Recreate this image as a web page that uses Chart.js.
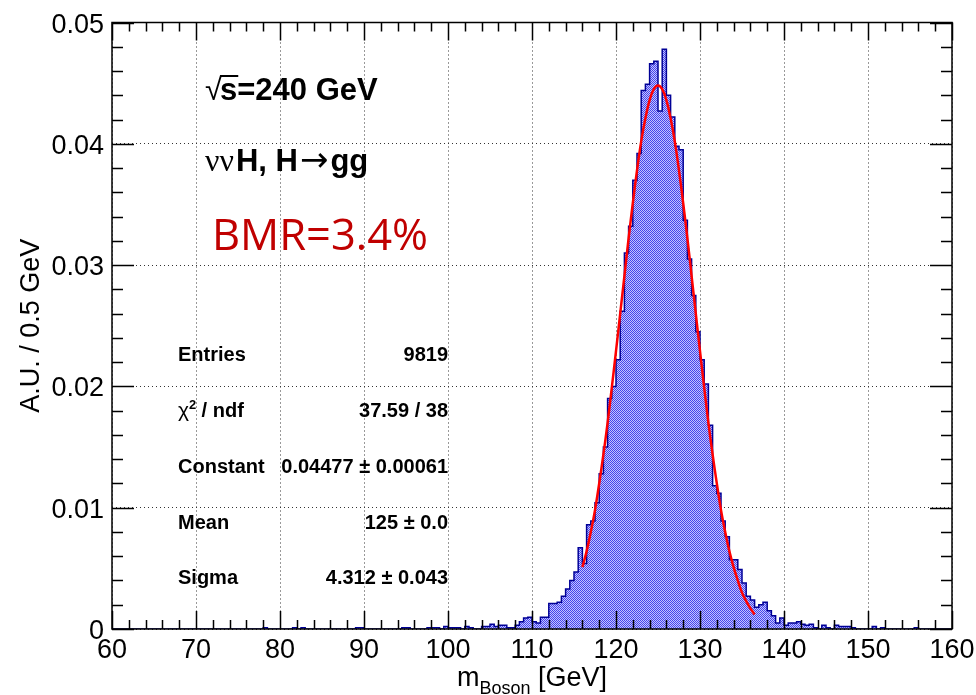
<!DOCTYPE html>
<html>
<head>
<meta charset="utf-8">
<script src="https://cdn.jsdelivr.net/npm/chart.js@4.4.0/dist/chart.umd.min.js"></script>
<style>
  html, body { margin: 0; padding: 0; background: #fff; }
</style>
</head>
<body>
<canvas id="chart" width="976" height="695"></canvas>
<script>
// m_Boson histogram: 200 bins of 0.5 GeV, first bin starts at 60 GeV
const binLow = 60;
const binWidth = 0.5;
const binValues = [
  0, 0, 0, 0, 0, 0, 0, 0, 0, 0,                                            // 60
  0, 0, 0, 0, 0, 0, 0, 0, 0, 0,                                            // 65
  0, 0, 0, 0, 0, 0, 0, 0, 0, 0,                                            // 70
  0, 0, 0, 0, 0, 0, 0.0001, 0, 0, 0,                                       // 75
  0, 0, 0, 0.0001, 0, 0.0001, 0, 0, 0, 0,                                  // 80
  0, 0, 0, 0, 0, 0, 0, 0, 0.0001, 0.0001,                                  // 85
  0, 0, 0, 0, 0, 0, 0, 0, 0, 0.0001,                                       // 90
  0.0001, 0, 0, 0, 0, 0.0001, 0.0001, 0.0001, 0, 0.0002,                   // 95
  0.0001, 0.0001, 0.0001, 0, 0.0002, 0.0001, 0, 0, 0.0002, 0.0002,         // 100
  0.0004, 0.0002, 0.0003, 0.0003, 0.0001, 0.0001, 0.0003, 0.0006, 0.0009, 0.00096, // 105
  0.0006, 0.0005, 0.00096, 0.00096, 0.0021, 0.0021, 0.0022, 0.0027, 0.0033, 0.0040, // 110
  0.0047, 0.0067, 0.0054, 0.0086, 0.0089, 0.0104, 0.0128, 0.0150, 0.0190, 0.0200,   // 115
  0.0222, 0.0262, 0.0310, 0.0332, 0.0370, 0.0392, 0.0444, 0.0449, 0.0466, 0.0468,   // 120
  0.0427, 0.0478, 0.0440, 0.0422, 0.0398, 0.0395, 0.0337, 0.0305, 0.0275, 0.0245,   // 125
  0.0222, 0.0202, 0.0168, 0.0118, 0.0112, 0.0089, 0.0076, 0.0057, 0.0057, 0.0049,   // 130
  0.0038, 0.0027, 0.0024, 0.0018, 0.0020, 0.0022, 0.0015, 0.0011, 0.0005, 0.0009,   // 135
  0.0003, 0.0005, 0.0005, 0.0006, 0.0004, 0.0003, 0.0004, 0.0001, 0, 0.0003,       // 140
  0.0001, 0, 0.0003, 0.0002, 0.0002, 0.0002, 0.0001, 0, 0, 0,                      // 145
  0, 0.0002, 0, 0.0001, 0, 0, 0, 0, 0, 0,                                          // 150
  0, 0.0001, 0, 0, 0, 0, 0, 0, 0, 0                                                // 155
];

// gaussian fit curve
const fitMass = [
  116, 116.5, 117, 117.5, 118, 118.5, 119, 119.5, 120, 120.5,
  121, 121.5, 122, 122.5, 123, 123.5, 124, 124.5, 125, 125.5,
  126, 126.5, 127, 127.5, 128, 128.5, 129, 129.5, 130, 130.5,
  131, 131.5, 132, 132.5, 133, 133.5, 134, 134.5, 135, 135.5,
  136, 136.5
];
const fitValues = [
  0.0051, 0.0064, 0.0080, 0.0098, 0.0120, 0.0144, 0.0170, 0.0199, 0.0229, 0.0260,
  0.0291, 0.0322, 0.0351, 0.0378, 0.0402, 0.0421, 0.0436, 0.0445, 0.0448, 0.0445,
  0.0436, 0.0421, 0.0402, 0.0378, 0.0351, 0.0322, 0.0291, 0.0260, 0.0229, 0.0199,
  0.0170, 0.0144, 0.0120, 0.0098, 0.0080, 0.0064, 0.0051, 0.0040, 0.0030, 0.0023,
  0.0017, 0.0012
];

const xTickValues = [60, 70, 80, 90, 100, 110, 120, 130, 140, 150, 160];
const yTickValues = [0, 0.01, 0.02, 0.03, 0.04, 0.05];
const yTickLabels = ['0', '0.01', '0.02', '0.03', '0.04', '0.05'];

const statNames = ['Entries', 'χ² / ndf', 'Constant', 'Mean', 'Sigma'];
const statValues = ['9819', '37.59 / 38', '0.04477 ± 0.00061', '125 ± 0.0', '4.312 ± 0.043'];

const sans = '"Liberation Sans", Arial, sans-serif';

const canvas = document.getElementById('chart');
const ctx0 = canvas.getContext('2d');

// ROOT style dotted fill
function hatchPattern() {
  const c = document.createElement('canvas');
  c.width = 2;
  c.height = 2;
  const g = c.getContext('2d');
  g.fillStyle = 'rgb(195,195,255)';
  g.fillRect(0, 0, 2, 2);
  g.fillStyle = 'rgb(70,70,235)';
  g.fillRect(0, 0, 1, 1);
  g.fillRect(1, 1, 1, 1);
  return ctx0.createPattern(c, 'repeat');
}

const histPoints = binValues.map((v, i) => ({ x: binLow + i * binWidth, y: v }));
histPoints.push({ x: binLow + binValues.length * binWidth, y: 0 });
const fitPoints = fitMass.map((m, i) => ({ x: m, y: fitValues[i] }));

const frameAndText = {
  id: 'frameAndText',
  afterDraw(chart) {
    const ctx = chart.ctx;
    const { left, right, top, bottom } = chart.chartArea;
    const xs = chart.scales.x;
    const ys = chart.scales.y;
    ctx.save();

    // frame + inward ticks on all four sides
    ctx.strokeStyle = '#000';
    ctx.lineWidth = 1.5;
    ctx.strokeRect(left, top, right - left, bottom - top);
    ctx.beginPath();
    for (let v = 60; v <= 160; v += 2) {
      const px = Math.round(xs.getPixelForValue(v)) + 0.5;
      const len = v % 10 === 0 ? 18 : 9;
      ctx.moveTo(px, bottom); ctx.lineTo(px, bottom - len);
      ctx.moveTo(px, top); ctx.lineTo(px, top + len);
    }
    for (let k = 0; k <= 25; k++) {
      const py = Math.round(ys.getPixelForValue(k * 0.002)) + 0.5;
      const len = k % 5 === 0 ? 22 : 11;
      ctx.moveTo(left, py); ctx.lineTo(left + len, py);
      ctx.moveTo(right, py); ctx.lineTo(right - len, py);
    }
    ctx.stroke();

    ctx.fillStyle = '#000';
    ctx.textBaseline = 'alphabetic';

    // tick labels from the scales
    ctx.font = '27px ' + sans;
    ctx.textAlign = 'center';
    xs.ticks.forEach((t) => {
      ctx.fillText(String(t.value), xs.getPixelForValue(t.value), 658);
    });
    ctx.textAlign = 'right';
    ys.ticks.forEach((t, i) => {
      ctx.fillText(yTickLabels[i], 104, ys.getPixelForValue(t.value) + 10);
    });

    // x axis title with subscript
    ctx.textAlign = 'left';
    const mainFont = '27px ' + sans;
    const subFont = '18px ' + sans;
    ctx.font = mainFont;
    const wM = ctx.measureText('m').width;
    const wG = ctx.measureText(' [GeV]').width;
    ctx.font = subFont;
    const wB = ctx.measureText('Boson').width;
    let tx = (left + right) / 2 - (wM + wB + wG) / 2;
    ctx.font = mainFont;
    ctx.fillText('m', tx, 686);
    tx += wM;
    ctx.font = subFont;
    ctx.fillText('Boson', tx, 694);
    tx += wB;
    ctx.font = mainFont;
    ctx.fillText(' [GeV]', tx, 686);

    // sqrt(s) line
    let x = 205;
    ctx.font = '31px ' + sans;
    ctx.fillText('√', x, 100);
    x += ctx.measureText('√').width - 2;
    ctx.font = 'bold 31px ' + sans;
    const wS = ctx.measureText('s').width;
    ctx.fillRect(x, 75, wS + 1, 2);
    ctx.fillText('s=240 GeV', x, 100);

    // process line
    x = 205;
    const parts = [
      ['νν', '32px "Liberation Serif", serif'],
      ['H, H', 'bold 31px ' + sans],
      ['→', '34px "DejaVu Sans", sans-serif'],
      ['gg', 'bold 31px ' + sans]
    ];
    parts.forEach(([t, f]) => {
      ctx.font = f;
      ctx.fillText(t, x, 171);
      x += ctx.measureText(t).width + 2;
    });

    // BMR label
    ctx.fillStyle = 'rgb(192,0,0)';
    ctx.font = '43.5px "Open Sans", "Noto Sans", sans-serif';
    ctx.fillText('BMR=3.4%', 212, 250);

    // fit statistics
    ctx.fillStyle = '#000';
    const rowY = [361, 417, 473, 529, 584];
    statNames.forEach((name, i) => {
      ctx.textAlign = 'left';
      if (name.startsWith('χ')) {
        ctx.font = '21px ' + sans;
        ctx.fillText('χ', 178, rowY[i]);
        const wc = ctx.measureText('χ').width;
        ctx.font = 'bold 13px ' + sans;
        ctx.fillText('2', 178 + wc, rowY[i] - 8);
        ctx.font = 'bold 20px ' + sans;
        ctx.fillText(' / ndf', 178 + wc + 7, rowY[i]);
      } else {
        ctx.font = 'bold 20px ' + sans;
        ctx.fillText(name, 178, rowY[i]);
      }
      ctx.textAlign = 'right';
      ctx.font = 'bold 20px ' + sans;
      ctx.fillText(statValues[i], 448, rowY[i]);
    });
    ctx.restore();
  }
};

const config = {
  type: 'line',
  data: {
    datasets: [
      {
        label: 'Gaussian fit',
        data: fitPoints,
        borderColor: 'rgb(255,0,0)',
        borderWidth: 2.5,
        pointRadius: 0,
        tension: 0.4,
        fill: false,
        order: 0
      },
      {
        label: 'm_Boson',
        data: histPoints,
        stepped: true,
        borderColor: 'rgb(0,0,150)',
        borderWidth: 1.5,
        backgroundColor: hatchPattern(),
        pointRadius: 0,
        fill: 'origin',
        order: 1
      }
    ]
  },
  options: {
    responsive: false,
    animation: false,
    devicePixelRatio: 1,
    layout: { padding: { left: 0, right: 24, top: 22.5, bottom: 0 } },
    plugins: {
      legend: { display: false },
      tooltip: { enabled: false }
    },
    scales: {
      x: {
        type: 'linear',
        min: 60,
        max: 160,
        z: 1,
        afterBuildTicks: (scale) => {
          scale.ticks = xTickValues.map((v) => ({ value: v }));
        },
        afterFit: (scale) => {
          scale.height = 66;
        },
        ticks: { display: false },
        grid: { color: '#333', lineWidth: 1, drawTicks: false },
        border: { display: false, dash: [1, 3] }
      },
      y: {
        min: 0,
        max: 0.05,
        z: 1,
        afterBuildTicks: (scale) => {
          scale.ticks = yTickValues.map((v) => ({ value: v }));
        },
        afterFit: (scale) => {
          scale.width = 112;
        },
        ticks: { display: false },
        title: {
          display: true,
          text: 'A.U. / 0.5 GeV',
          color: '#000',
          font: { family: sans, size: 27 },
          padding: { top: 15, bottom: 0 }
        },
        grid: { color: '#333', lineWidth: 1, drawTicks: false },
        border: { display: false, dash: [1, 3] }
      }
    }
  },
  plugins: [frameAndText]
};

new Chart(canvas, config);
</script>
</body>
</html>
